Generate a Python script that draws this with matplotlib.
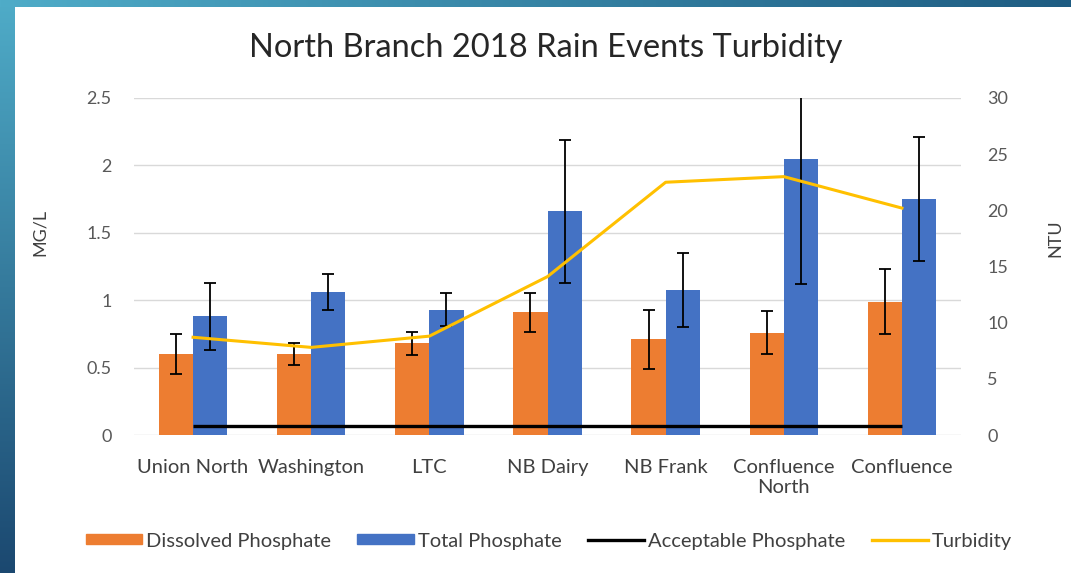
import numpy as np
import matplotlib
matplotlib.use("Agg")
import matplotlib.pyplot as plt
from matplotlib.lines import Line2D
from matplotlib.patches import Patch

plt.rcParams['font.family'] = ['Lato', 'DejaVu Sans']

categories = ["Union North", "Washington", "LTC", "NB Dairy", "NB Frank",
              "Confluence\nNorth", "Confluence"]
dissolved = [0.60, 0.60, 0.68, 0.91, 0.71, 0.76, 0.99]
dissolved_err = [0.15, 0.08, 0.085, 0.145, 0.22, 0.16, 0.24]
total = [0.88, 1.06, 0.93, 1.66, 1.075, 2.05, 1.75]
total_err = [0.25, 0.135, 0.125, 0.53, 0.275, 0.93, 0.46]
acceptable = [0.07] * 7
turbidity = [8.7, 7.8, 8.8, 14.1, 22.5, 23.0, 20.2]

C_ORANGE = "#ED7D31"
C_BLUE = "#4472C4"
C_GOLD = "#FFC000"
C_TEXT = "#595959"
C_GRID = "#D9D9D9"

W, H = 1071, 573
fig = plt.figure(figsize=(W / 100, H / 100), dpi=100, facecolor="white")

# decorative slide border (gradient strips)
bg = fig.add_axes([0, 0, 1, 1], zorder=-10)
img = np.ones((H, W, 3))
top_c = np.array([79, 172, 200]) / 255
bot_c = np.array([27, 72, 112]) / 255
right_c = np.array([30, 92, 130]) / 255
t = np.linspace(0, 1, H)[:, None]
img[:, :15, :] = (top_c * (1 - t) + bot_c * t)[:, None, :].repeat(15, axis=1)
s = np.linspace(0, 1, W)[:, None]
img[:7, :, :] = (top_c * (1 - s) + right_c * s)[None, :, :].repeat(7, axis=0)
bg.imshow(img, aspect="auto", extent=[0, 1, 0, 1], interpolation="bilinear")
bg.axis("off")

ax = fig.add_axes([134 / W, 1 - 435 / H, 827 / W, 337 / H])
x = np.arange(len(categories))
bw = 0.29

ax.bar(x - bw / 2, dissolved, bw, color=C_ORANGE, zorder=2)
ax.bar(x + bw / 2, total, bw, color=C_BLUE, zorder=2)
ax.errorbar(x - bw / 2, dissolved, yerr=dissolved_err, fmt="none",
            ecolor="black", elinewidth=1.3, capsize=4, capthick=1.3, zorder=4)
ax.errorbar(x + bw / 2, total, yerr=total_err, fmt="none",
            ecolor="black", elinewidth=1.3, capsize=4, capthick=1.3, zorder=4)
ax.plot(x, acceptable, color="black", lw=2.4, zorder=5, solid_capstyle="butt")

ax.set_xlim(-0.5, len(categories) - 0.5)
ax.set_ylim(0, 2.5)
ax.set_yticks([0, 0.5, 1, 1.5, 2, 2.5])
ax.set_yticklabels(["0", "0.5", "1", "1.5", "2", "2.5"])
ax.yaxis.grid(True, color=C_GRID, lw=1)
ax.set_axisbelow(True)
for sp in ax.spines.values():
    sp.set_visible(False)
ax.tick_params(axis="both", length=0, colors=C_TEXT, labelsize=13)
ax.tick_params(axis="y", pad=16)
ax.set_xticks(x)
ax.set_xticklabels(categories, color="#404040", fontsize=14.5, linespacing=1.25)
ax.tick_params(axis="x", pad=17)
ax.set_ylabel("MG/L", color="#404040", fontsize=13)
ax.yaxis.set_label_coords(-0.104, 0.60)

ax2 = ax.twinx()
ax2.plot(x, turbidity, color=C_GOLD, lw=2.2, zorder=3)
ax2.set_ylim(0, 30)
ax2.set_yticks([0, 5, 10, 15, 20, 25, 30])
for sp in ax2.spines.values():
    sp.set_visible(False)
ax2.tick_params(axis="y", length=0, colors=C_TEXT, labelsize=13, pad=19)
ax2.set_ylabel("NTU", color="#404040", fontsize=13)
ax2.yaxis.set_label_coords(1.105, 0.585)

fig.text(546 / W, 1 - 48 / H, "North Branch 2018 Rain Events Turbidity",
         ha="center", va="center", fontsize=23.5, color="#262626")

handles = [Patch(color=C_ORANGE), Patch(color=C_BLUE),
           Line2D([], [], color="black", lw=2.4),
           Line2D([], [], color=C_GOLD, lw=2.4)]
labels = ["Dissolved Phosphate", "Total Phosphate", "Acceptable Phosphate", "Turbidity"]
fig.legend(handles, labels, loc="center", bbox_to_anchor=(549 / W, 1 - 541 / H),
           ncol=4, frameon=False, fontsize=14.5, labelcolor="#404040",
           handlelength=2.8, handleheight=0.4, handletextpad=0.2, columnspacing=1.3)

fig.savefig("out.png", dpi=100, facecolor="white")
